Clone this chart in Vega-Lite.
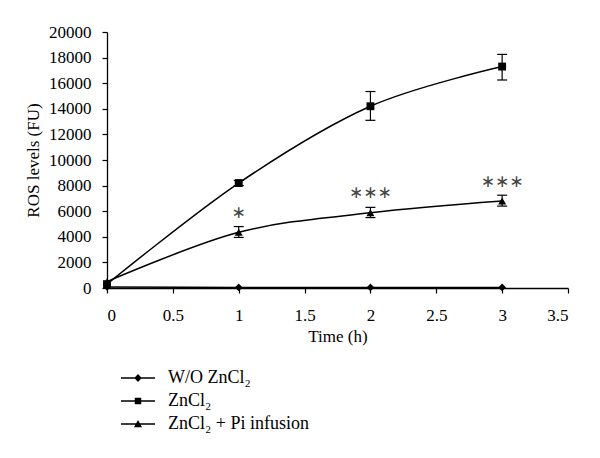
{
  "$schema": "https://vega.github.io/schema/vega-lite/v6.json",
  "autosize": "none",
  "width": 461,
  "height": 256,
  "padding": {"left": 107, "top": 32, "right": 32, "bottom": 170},
  "background": "white",
  "config": {
    "view": {"stroke": null},
    "font": "Liberation Serif",
    "axis": {
      "grid": false,
      "domainColor": "black",
      "domainWidth": 1.3,
      "tickColor": "black",
      "tickWidth": 1.2,
      "tickSize": 5,
      "labelColor": "black",
      "labelFont": "Liberation Serif",
      "labelFontSize": 17,
      "labelOverlap": false,
      "titleFont": "Liberation Serif",
      "titleFontSize": 17,
      "titleFontWeight": "normal",
      "titleColor": "black"
    },
    "axisX": {"labelPadding": 14, "titlePadding": 5},
    "axisY": {"labelPadding": 11, "titlePadding": 6}
  },
  "datasets": {
    "pts": [
      {"series": "W/O ZnCl₂", "time": 0, "value": 80, "lo": null, "hi": null},
      {"series": "W/O ZnCl₂", "time": 1, "value": 40, "lo": null, "hi": null},
      {"series": "W/O ZnCl₂", "time": 2, "value": 40, "lo": null, "hi": null},
      {"series": "W/O ZnCl₂", "time": 3, "value": 40, "lo": null, "hi": null},
      {"series": "ZnCl₂", "time": 0, "value": 300, "lo": null, "hi": null},
      {"series": "ZnCl₂", "time": 1, "value": 8200, "lo": 8000, "hi": 8400},
      {"series": "ZnCl₂", "time": 2, "value": 14200, "lo": 13100, "hi": 15350},
      {"series": "ZnCl₂", "time": 3, "value": 17300, "lo": 16250, "hi": 18250},
      {"series": "ZnCl₂ + Pi infusion", "time": 0, "value": 500, "lo": null, "hi": null},
      {"series": "ZnCl₂ + Pi infusion", "time": 1, "value": 4350, "lo": 3950, "hi": 4800},
      {"series": "ZnCl₂ + Pi infusion", "time": 2, "value": 5880, "lo": 5500, "hi": 6300},
      {"series": "ZnCl₂ + Pi infusion", "time": 3, "value": 6800, "lo": 6400, "hi": 7250}
    ],
    "stars": [
      {"time": 1, "y": 5850, "label": "∗"},
      {"time": 2, "y": 7400, "label": "∗∗∗"},
      {"time": 3, "y": 8300, "label": "∗∗∗"}
    ]
  },
  "resolve": {"scale": {"shape": "independent", "size": "independent"}},
  "layer": [
    {
      "data": {"name": "pts"},
      "mark": {"type": "line", "interpolate": "cardinal", "color": "black", "strokeWidth": 1.5},
      "encoding": {
        "x": {"field": "time", "type": "quantitative", "scale": {"domain": [0, 3.5], "nice": false},
          "axis": {"values": [0, 0.5, 1, 1.5, 2, 2.5, 3, 3.5], "tickCount": 8, "format": "~g", "title": "Time (h)", "labelOverlap": false}},
        "y": {"field": "value", "type": "quantitative", "scale": {"domain": [0, 20000], "nice": false},
          "axis": {"values": [0, 2000, 4000, 6000, 8000, 10000, 12000, 14000, 16000, 18000, 20000], "tickCount": 11, "format": "d", "title": "ROS levels (FU)", "labelOverlap": false}},
        "detail": {"field": "series"}
      }
    },
    {
      "data": {"name": "pts"},
      "transform": [{"filter": "datum.lo != null"}],
      "mark": {"type": "rule", "color": "black", "strokeWidth": 1.2},
      "encoding": {
        "x": {"field": "time", "type": "quantitative",
          "axis": {"values": [0, 0.5, 1, 1.5, 2, 2.5, 3, 3.5], "tickCount": 8, "format": "~g", "title": "Time (h)", "labelOverlap": false}},
        "y": {"field": "lo", "type": "quantitative",
          "axis": {"values": [0, 2000, 4000, 6000, 8000, 10000, 12000, 14000, 16000, 18000, 20000], "tickCount": 11, "format": "d", "title": "ROS levels (FU)", "labelOverlap": false}},
        "y2": {"field": "hi"}
      }
    },
    {
      "data": {"name": "pts"},
      "transform": [{"filter": "datum.lo != null"}],
      "mark": {"type": "tick", "orient": "horizontal", "color": "black", "size": 10, "thickness": 1.2, "opacity": 1},
      "encoding": {
        "x": {"field": "time", "type": "quantitative",
          "axis": {"values": [0, 0.5, 1, 1.5, 2, 2.5, 3, 3.5], "tickCount": 8, "format": "~g", "title": "Time (h)", "labelOverlap": false}},
        "y": {"field": "lo", "type": "quantitative",
          "axis": {"values": [0, 2000, 4000, 6000, 8000, 10000, 12000, 14000, 16000, 18000, 20000], "tickCount": 11, "format": "d", "title": "ROS levels (FU)", "labelOverlap": false}}
      }
    },
    {
      "data": {"name": "pts"},
      "transform": [{"filter": "datum.lo != null"}],
      "mark": {"type": "tick", "orient": "horizontal", "color": "black", "size": 10, "thickness": 1.2, "opacity": 1},
      "encoding": {
        "x": {"field": "time", "type": "quantitative",
          "axis": {"values": [0, 0.5, 1, 1.5, 2, 2.5, 3, 3.5], "tickCount": 8, "format": "~g", "title": "Time (h)", "labelOverlap": false}},
        "y": {"field": "hi", "type": "quantitative",
          "axis": {"values": [0, 2000, 4000, 6000, 8000, 10000, 12000, 14000, 16000, 18000, 20000], "tickCount": 11, "format": "d", "title": "ROS levels (FU)", "labelOverlap": false}}
      }
    },
    {
      "data": {"name": "pts"},
      "mark": {"type": "point", "filled": true, "color": "black", "opacity": 1},
      "encoding": {
        "x": {"field": "time", "type": "quantitative",
          "axis": {"values": [0, 0.5, 1, 1.5, 2, 2.5, 3, 3.5], "tickCount": 8, "format": "~g", "title": "Time (h)", "labelOverlap": false}},
        "y": {"field": "value", "type": "quantitative",
          "axis": {"values": [0, 2000, 4000, 6000, 8000, 10000, 12000, 14000, 16000, 18000, 20000], "tickCount": 11, "format": "d", "title": "ROS levels (FU)", "labelOverlap": false}},
        "shape": {"field": "series", "type": "nominal",
          "scale": {"domain": ["W/O ZnCl₂", "ZnCl₂", "ZnCl₂ + Pi infusion"], "range": ["diamond", "square", "triangle-up"]},
          "legend": null},
        "size": {"field": "series", "type": "nominal",
          "scale": {"domain": ["W/O ZnCl₂", "ZnCl₂", "ZnCl₂ + Pi infusion"], "range": [60, 64, 190]},
          "legend": null}
      }
    },
    {
      "data": {"name": "pts"},
      "mark": {"type": "point", "filled": true, "color": "black", "opacity": 0, "size": 100},
      "encoding": {
        "x": {"field": "time", "type": "quantitative",
          "axis": {"values": [0, 0.5, 1, 1.5, 2, 2.5, 3, 3.5], "tickCount": 8, "format": "~g", "title": "Time (h)", "labelOverlap": false}},
        "y": {"field": "value", "type": "quantitative",
          "axis": {"values": [0, 2000, 4000, 6000, 8000, 10000, 12000, 14000, 16000, 18000, 20000], "tickCount": 11, "format": "d", "title": "ROS levels (FU)", "labelOverlap": false}},
        "shape": {"field": "series", "type": "nominal",
          "scale": {"domain": ["W/O ZnCl₂", "ZnCl₂", "ZnCl₂ + Pi infusion"],
            "range": ["M-1,-0.13L5.8,-0.13L5.8,0.13L-1,0.13ZM2.4,-0.8L3.15,0L2.4,0.8L1.65,0Z", "M-1,-0.13L5.8,-0.13L5.8,0.13L-1,0.13ZM1.75,-0.65L3.05,-0.65L3.05,0.65L1.75,0.65Z", "M-1,-0.13L5.8,-0.13L5.8,0.13L-1,0.13ZM2.4,-0.8L3.2,0.65L1.6,0.65Z"]},
          "legend": {"title": null, "orient": "none", "legendX": 10, "legendY": 337, "symbolSize": 100,
            "symbolOpacity": 1, "symbolFillColor": "black", "symbolStrokeWidth": 0,
            "labelFont": "Liberation Serif", "labelFontSize": 18, "labelColor": "black", "labelOffset": 33, "rowPadding": 5}}
      }
    },
    {
      "data": {"name": "stars"},
      "mark": {"type": "text", "fontSize": 17, "font": "DejaVu Sans", "color": "#444", "baseline": "middle"},
      "encoding": {
        "x": {"field": "time", "type": "quantitative"},
        "y": {"field": "y", "type": "quantitative"},
        "text": {"field": "label"}
      }
    }
  ]
}
